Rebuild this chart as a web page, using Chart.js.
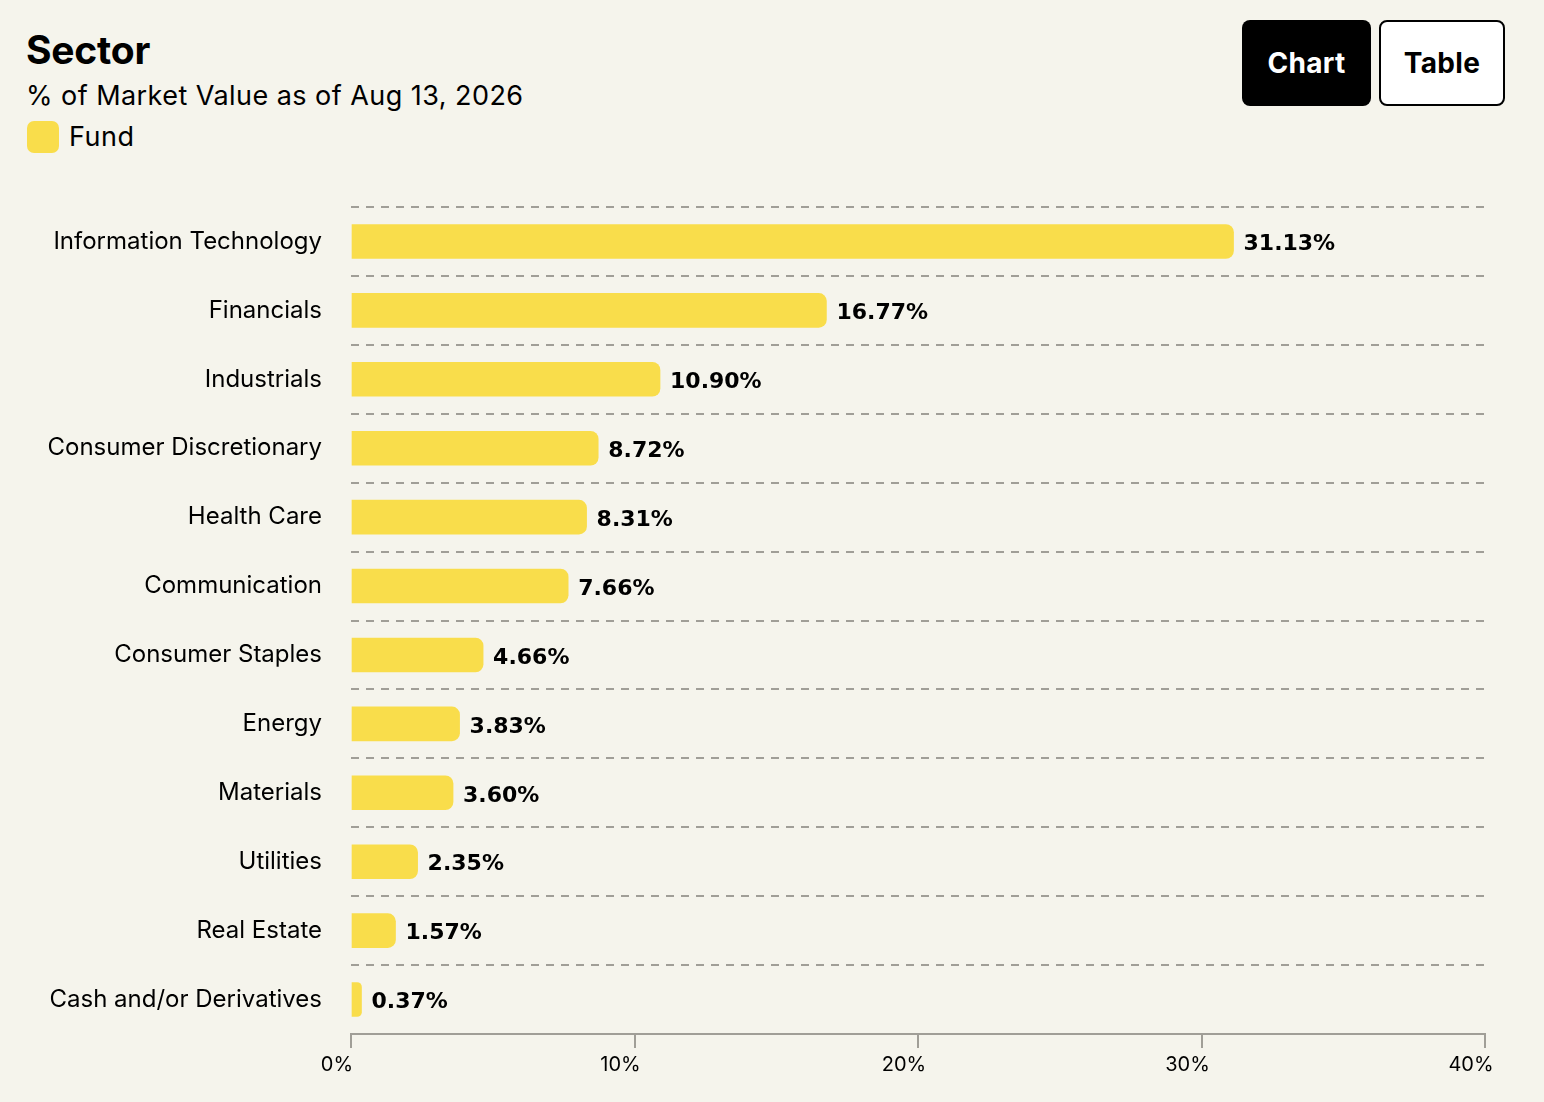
<!DOCTYPE html>
<html>
<head>
<meta charset="utf-8">
<script src="https://cdn.jsdelivr.net/npm/chart.js@4.4.1/dist/chart.umd.min.js"></script>
<style>
  html, body { margin:0; padding:0; background:#f5f4ec; }
  body { width:1544px; height:1102px; position:relative; overflow:hidden; font-family: Inter, "Noto Sans", sans-serif; color:#000; }
  #title { position:absolute; left:26px; top:28px; font-size:39px; font-weight:700; line-height:44px; letter-spacing:-0.2px; }
  #subtitle { position:absolute; left:26px; top:80px; font-size:27px; line-height:32px; letter-spacing:0.45px; }
  #legend { position:absolute; left:27px; top:121px; display:flex; align-items:center; font-size:27px; line-height:32px; letter-spacing:0.5px; }
  #legend .sw { width:32px; height:32px; border-radius:7px; background:#f9dd4b; margin-right:10px; }
  .btn { position:absolute; top:20px; height:86px; box-sizing:border-box; border-radius:8px; display:flex; align-items:center; justify-content:center; font-size:28px; font-weight:700; letter-spacing:0.3px; }
  #bChart { left:1242px; width:129px; background:#000; color:#fff; }
  #bTable { left:1379px; width:126px; background:#fff; color:#000; border:2px solid #000; }
  #wrap { position:absolute; left:0; top:0; width:1544px; height:1102px; }
</style>
</head>
<body>
<div id="title">Sector</div>
<div id="subtitle">% of Market Value as of Aug 13, 2026</div>
<div id="legend"><div class="sw"></div><span>Fund</span></div>
<div class="btn" id="bChart">Chart</div>
<div class="btn" id="bTable">Table</div>
<div id="wrap"><canvas id="c"></canvas></div>
<script>
const categories = [
  "Information Technology","Financials","Industrials","Consumer Discretionary",
  "Health Care","Communication","Consumer Staples","Energy","Materials",
  "Utilities","Real Estate","Cash and/or Derivatives"
];
const fundValues = [31.13, 16.77, 10.90, 8.72, 8.31, 7.66, 4.66, 3.83, 3.60, 2.35, 1.57, 0.37];
const xTickValues = [0, 10, 20, 30, 40];

const GRID = '#a09e97';
const FONT = 'Inter, "Noto Sans", sans-serif';

const valueLabels = {
  id: 'valueLabels',
  afterDatasetsDraw(chart) {
    const ctx = chart.ctx;
    const meta = chart.getDatasetMeta(0);
    ctx.save();
    ctx.font = '700 22px "DejaVu Sans", ' + FONT;
    ctx.fillStyle = '#000';
    ctx.textAlign = 'left';
    ctx.textBaseline = 'middle';
    meta.data.forEach((bar, i) => {
      const v = chart.data.datasets[0].data[i];
      ctx.fillText(v.toFixed(2) + '%', bar.x + 10, bar.y + 3);
    });
    ctx.restore();
  }
};

new Chart(document.getElementById('c'), {
  type: 'bar',
  data: {
    labels: categories,
    datasets: [{
      label: 'Fund',
      data: fundValues,
      backgroundColor: '#f9dd4b',
      borderWidth: 0,
      borderRadius: 8,
      borderSkipped: 'start',
      barThickness: 34
    }]
  },
  options: {
    indexAxis: 'y',
    responsive: true,
    maintainAspectRatio: false,
    animation: false,
    layout: { padding: { top: 207, right: 59, left: 0, bottom: 0 } },
    plugins: { legend: { display: false }, tooltip: { enabled: false } },
    scales: {
      x: {
        type: 'linear',
        min: 0, max: 40,
        afterBuildTicks(scale) { scale.ticks = xTickValues.map(v => ({ value: v })); },
        afterFit(scale) { scale.height = 68; },
        grid: { drawOnChartArea: false, drawTicks: true, tickLength: 14, color: GRID, lineWidth: 2 },
        border: { display: true, color: GRID, width: 2 },
        ticks: {
          color: '#000',
          font: { family: FONT, size: 20 },
          padding: 5,
          labelOffset: -14,
          maxRotation: 0,
          callback: v => v + '%'
        }
      },
      y: {
        type: 'category',
        afterFit(scale) { scale.width = 351; },
        grid: { display: true, drawTicks: false, color: GRID, lineWidth: 2, offset: true },
        border: { display: false, dash: [8, 7] },
        ticks: {
          color: '#000',
          font: { family: FONT, size: 24 },
          padding: 29
        }
      }
    }
  },
  plugins: [valueLabels]
});
</script>
</body>
</html>
